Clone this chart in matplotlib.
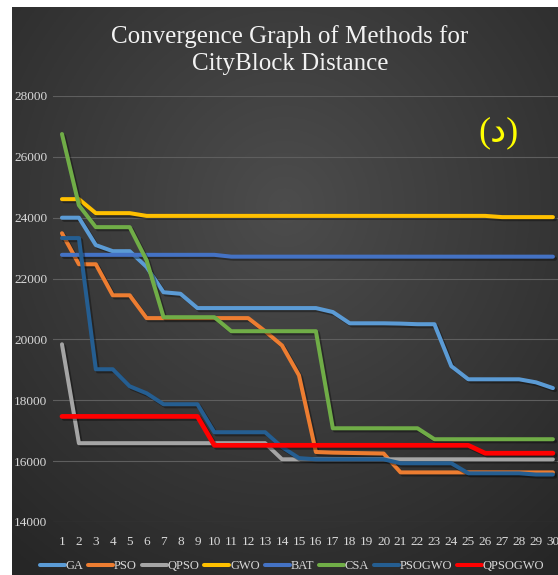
import numpy as np
import matplotlib
matplotlib.use("Agg")
import matplotlib.pyplot as plt
import matplotlib.patheffects as pe

iterations = list(range(1, 31))
GA = [24000, 24000, 23100, 22900, 22900, 22380, 21550, 21500, 21030, 21030,
      21030, 21030, 21030, 21030, 21030, 21030, 20900, 20530, 20530, 20530,
      20520, 20500, 20500, 19120, 18690, 18690, 18690, 18690, 18590, 18400]
PSO = [23490, 22470, 22470, 21450, 21450, 20700, 20700, 20700, 20700, 20700,
       20700, 20700, 20270, 19800, 18820, 16300, 16280, 16270, 16260, 16250,
       15630, 15630, 15630, 15630, 15630, 15630, 15630, 15630, 15630, 15630]
QPSO = [19840, 16590, 16590, 16590, 16590, 16590, 16590, 16590, 16590, 16590,
        16590, 16590, 16590, 16060, 16060, 16060, 16060, 16060, 16060, 16060,
        16060, 16060, 16060, 16060, 16060, 16060, 16060, 16060, 16060, 16060]
GWO = [24610, 24610, 24150, 24150, 24150, 24060, 24060, 24060, 24060, 24060,
       24060, 24060, 24060, 24060, 24060, 24060, 24060, 24060, 24060, 24060,
       24060, 24060, 24060, 24060, 24060, 24060, 24020, 24020, 24020, 24020]
BAT = [22780, 22780, 22780, 22780, 22780, 22780, 22780, 22780, 22780, 22780,
       22720, 22720, 22720, 22720, 22720, 22720, 22720, 22720, 22720, 22720,
       22720, 22720, 22720, 22720, 22720, 22720, 22720, 22720, 22720, 22720]
CSA = [26750, 24410, 23690, 23690, 23690, 22600, 20730, 20730, 20730, 20730,
       20270, 20270, 20270, 20270, 20270, 20270, 17080, 17080, 17080, 17080,
       17080, 17080, 16720, 16720, 16720, 16720, 16720, 16720, 16720, 16720]
PSOGWO = [23330, 23330, 19020, 19020, 18460, 18230, 17870, 17870, 17870, 16950,
          16950, 16950, 16950, 16460, 16100, 16060, 16060, 16060, 16060, 16060,
          15930, 15930, 15930, 15930, 15600, 15600, 15600, 15600, 15560, 15560]
QPSOGWO = [17470, 17470, 17470, 17470, 17470, 17470, 17470, 17470, 17470, 16520,
           16520, 16520, 16520, 16520, 16520, 16520, 16520, 16520, 16520, 16520,
           16520, 16520, 16520, 16520, 16520, 16260, 16260, 16260, 16260, 16260]

series_names = ["GA", "PSO", "QPSO", "GWO", "BAT", "CSA", "PSOGWO", "QPSOGWO"]
series_vals = [GA, PSO, QPSO, GWO, BAT, CSA, PSOGWO, QPSOGWO]
colors = ["#5B9BD5", "#ED7D31", "#A5A5A5", "#FFC000", "#4472C4", "#70AD47",
          "#255E91", "#FF0000"]
yticks = [14000, 16000, 18000, 20000, 22000, 24000, 26000, 28000]

W, H = 558, 575
fig = plt.figure(figsize=(W / 100, H / 100), dpi=100)
fig.patch.set_facecolor("white")

# background gradient panel
bg = fig.add_axes([12 / W, 0, 1 - 12 / W, 1 - 7 / H])
bg.set_axis_off()
yy, xx = np.mgrid[0:1:300j, 0:1:300j]
r = np.sqrt((xx - 0.5) ** 2 + (yy - 0.35) ** 2)
grad = 0.30 - 0.15 * np.clip(r / 0.8, 0, 1)
img = np.dstack([grad, grad, grad])
bg.imshow(img, aspect="auto", extent=[0, 1, 0, 1], origin="upper")

serif = ["Liberation Serif", "DejaVu Serif"]
txtc = "#D9D9D9"

ax = fig.add_axes([53 / W, 1 - 522 / H, (W - 53) / W, (522 - 96) / H])
ax.patch.set_alpha(0)
ax.set_xlim(0.47, 30.3)
ax.set_ylim(14000, 28000)
ax.set_yticks(yticks)
ax.set_yticklabels([str(v) for v in yticks])
ax.set_xticks(iterations)
ax.set_xticklabels([str(i) for i in iterations])
for s in ax.spines.values():
    s.set_visible(False)
ax.tick_params(axis="both", length=0, colors=txtc, labelsize=9.5)
ax.tick_params(axis="x", pad=10)
ax.tick_params(axis="y", pad=4)
for lab in ax.get_xticklabels() + ax.get_yticklabels():
    lab.set_fontfamily(serif)
ax.grid(axis="y", color="#5E5E5E", lw=0.8)
ax.set_axisbelow(True)

for name, vals, c in zip(series_names, series_vals, colors):
    lw = 3.4 if name == "QPSOGWO" else 2.9
    ax.plot(iterations, vals, color=c, lw=lw, label=name, solid_joinstyle="round",
            solid_capstyle="round",
            path_effects=[pe.SimpleLineShadow(offset=(1.5, -1.5), alpha=0.35),
                          pe.Normal()])

fig.text(290 / W, 1 - 50 / H, "Convergence Graph of Methods for\nCityBlock Distance",
         ha="center", va="center", color="#F2F2F2", fontsize=18,
         family=serif, linespacing=1.35)

fig.text(498 / W, 1 - 133 / H, "(د)", ha="center", va="center", color="#FFFF00",
         fontsize=26, family=["Liberation Serif", "DejaVu Sans"])

leg = fig.legend(*ax.get_legend_handles_labels(), loc="center",
                 bbox_to_anchor=(292 / W, 1 - 566 / H), ncol=8, frameon=False,
                 handlelength=2.0, handletextpad=0.05, columnspacing=0.4,
                 prop={"family": serif, "size": 9})
for t in leg.get_texts():
    t.set_color(txtc)
for l in leg.get_lines():
    l.set_path_effects([])
    l.set_linewidth(2.9)

fig.savefig("out.png", dpi=100)
